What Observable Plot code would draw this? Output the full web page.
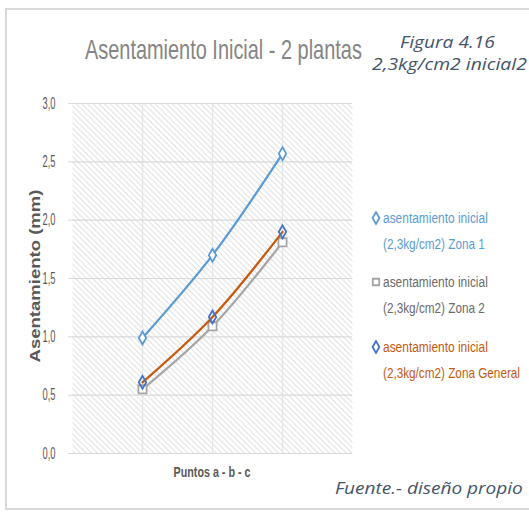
<!DOCTYPE html>
<html>
<head>
<meta charset="utf-8">
<script src="https://cdn.jsdelivr.net/npm/d3@7"></script>
<script src="https://cdn.jsdelivr.net/npm/@observablehq/plot@0.6"></script>
<style>
  html, body { margin: 0; padding: 0; background: #fff; }
  #wrap { position: relative; width: 529px; height: 512px; overflow: hidden; background: #fff; }
  #border { position: absolute; left: 5px; top: 8px; width: 560px; height: 502px; border: 2px solid #d9d9d9; box-sizing: border-box; }
  #wrap > svg { position: absolute; left: 0; top: 0; }
</style>
</head>
<body>
<svg width="0" height="0" style="position:absolute">
  <defs>
    <pattern id="hatch" patternUnits="userSpaceOnUse" width="4" height="4" patternTransform="rotate(-45)">
      <rect width="4" height="4" fill="#ffffff"></rect>
      <line x1="0" y1="0" x2="0" y2="4" stroke="#d4d4d4" stroke-width="1.4"></line>
    </pattern>
  </defs>
</svg>
<div id="wrap"><div id="border"></div></div>
<script>
// ---- data ----
const puntos = ["a", "b", "c"];
const puntoX = [1, 2, 3];
const zona1 = [0.99, 1.70, 2.57];
const zona2 = [0.55, 1.09, 1.81];
const zonaGeneral = [0.61, 1.17, 1.90];
const yTicks = [0, 0.5, 1.0, 1.5, 2.0, 2.5, 3.0];
const xGrid = [1, 2, 3];
const legendLabels = [
  ["asentamiento inicial", "(2,3kg/cm2) Zona 1"],
  ["asentamiento inicial", "(2,3kg/cm2) Zona 2"],
  ["asentamiento inicial", "(2,3kg/cm2) Zona General"]
];
const titleText = "Asentamiento Inicial - 2 plantas";
const figuraText = ["Figura 4.16", "2,3kg/cm2 inicial2"];
const yLabel = "Asentamiento (mm)";
const xLabel = "Puntos a - b - c";
const captionText = "Fuente.- diseño propio";

// ---- table ----
const rows = (vals) => puntos.map((p, i) => ({punto: p, x: puntoX[i], y: vals[i]}));
const r1 = rows(zona1), r2 = rows(zona2), rG = rows(zonaGeneral);

const c1 = "#5B9BD5", c2 = "#A5A5A5", cG = "#C55A11", cGm = "#4472C4";
const fmt = d => d.toFixed(1).replace(".", ",");

const plot = Plot.plot({
  width: 529,
  height: 512,
  marginLeft: 72,
  marginRight: 177,
  marginTop: 103,
  marginBottom: 59,
  style: {background: "transparent", fontFamily: "'Liberation Sans', sans-serif"},
  x: {domain: [0, 4], axis: null},
  y: {domain: [0, 3], axis: null},
  marks: [
    Plot.frame({fill: "url(#hatch)", stroke: null}),
    Plot.ruleX(xGrid, {stroke: "#e6e6e6", strokeWidth: 1.5}),
    Plot.ruleY(yTicks, {stroke: "#d9d9d9", strokeWidth: 1.2}),
    Plot.axisY(yTicks, {tickSize: 4, tickPadding: 13, stroke: "#d9d9d9", fill: "#595959", tickFormat: fmt, label: null}),
    Plot.line(r1, {x: "x", y: "y", stroke: c1, strokeWidth: 2.25, curve: "catmull-rom"}),
    Plot.dot(r1, {x: "x", y: "y", symbol: "diamond", r: 3.9, stroke: c1, strokeWidth: 1.8, fill: "white"}),
    Plot.line(r2, {x: "x", y: "y", stroke: c2, strokeWidth: 2.25, curve: "catmull-rom"}),
    Plot.dot(r2, {x: "x", y: "y", symbol: "square", r: 4.6, stroke: c2, strokeWidth: 1.8, fill: "white"}),
    Plot.line(rG, {x: "x", y: "y", stroke: cG, strokeWidth: 2.25, curve: "catmull-rom"}),
    Plot.dot(rG, {x: "x", y: "y", symbol: "diamond", r: 3.9, stroke: cGm, strokeWidth: 1.8, fill: "none"})
  ]
});
document.getElementById("wrap").appendChild(plot);

// larger, condensed tick labels (narrow font look)
d3.select(plot).selectAll('g[aria-label="y-axis tick label"] text')
  .style("font-size", "16px")
  .attr("textLength", 13).attr("lengthAdjust", "spacingAndGlyphs");

// ---- overlay texts (condensed by horizontal scale to a measured width) ----
const ov = d3.select("#wrap").append("svg").attr("width", 529).attr("height", 512).style("pointer-events", "none");
const sansFam = "'Liberation Sans', sans-serif";
const italicFam = "'Open Sans', 'DejaVu Sans', sans-serif";
function txt(o) {
  const t = ov.append("text").text(o.text)
    .attr("font-family", o.family || sansFam)
    .attr("font-size", o.size)
    .attr("fill", o.fill)
    .attr("text-anchor", o.anchor || "start");
  if (o.weight) t.attr("font-weight", o.weight);
  if (o.style) t.attr("font-style", o.style);
  const natural = t.node().getComputedTextLength() || 1;
  const sx = o.length ? o.length / natural : 1;
  t.attr("transform", `translate(${o.x},${o.y})${o.rotate ? ` rotate(${o.rotate})` : ""} scale(${sx},1)`);
  return t;
}
txt({text: titleText, x: 85, y: 59, size: 27, fill: "#858585", length: 277});
txt({text: figuraText[0], x: 400, y: 48, size: 16, family: italicFam, style: "italic", fill: "#44546A", length: 95});
txt({text: figuraText[1], x: 372, y: 70, size: 16, family: italicFam, style: "italic", fill: "#44546A", length: 155});
txt({text: yLabel, x: 40, y: 276, rotate: -90, size: 15, weight: "bold", fill: "#595959", anchor: "middle", length: 173});
txt({text: xLabel, x: 212, y: 477, size: 14, weight: "bold", fill: "#595959", anchor: "middle", length: 77});
txt({text: captionText, x: 335, y: 494, size: 16, family: italicFam, style: "italic", fill: "#44546A", length: 188});

// legend
const legendStyle = [
  {sym: d3.symbolDiamond, size: 40, stroke: c1, text: c1},
  {sym: d3.symbolSquare, size: 42, stroke: c2, text: "#6b6b6b"},
  {sym: d3.symbolDiamond, size: 40, stroke: cGm, text: cG}
];
const legendY = [223, 287, 352];
const legendLen = [[105, 102], [105, 102], [105, 137]];
legendLabels.forEach((lines, i) => {
  const s = legendStyle[i];
  ov.append("path").attr("d", d3.symbol(s.sym, s.size)())
    .attr("transform", `translate(376,${legendY[i] - 5})`)
    .attr("fill", "white").attr("stroke", s.stroke).attr("stroke-width", 1.8);
  txt({text: lines[0], x: 383, y: legendY[i], size: 14.5, fill: s.text, length: legendLen[i][0]});
  txt({text: lines[1], x: 383, y: legendY[i] + 25.5, size: 14.5, fill: s.text, length: legendLen[i][1]});
});
</script>
</body>
</html>
